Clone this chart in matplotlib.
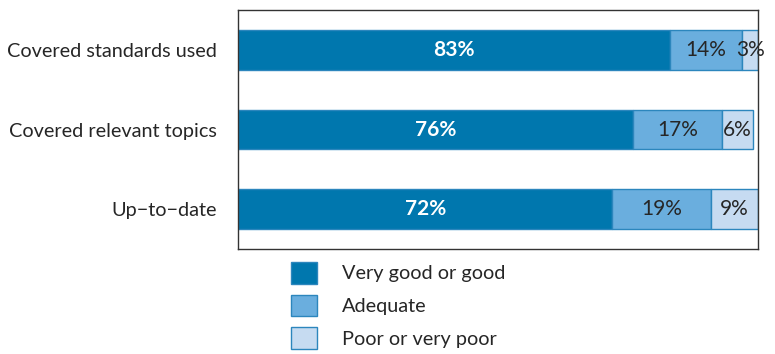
import matplotlib.pyplot as plt
from matplotlib.patches import Patch

categories = ["Covered standards used", "Covered relevant topics", "Up\u2212to\u2212date"]
very_good = [83, 76, 72]
adequate = [14, 17, 19]
poor = [3, 6, 9]
series_names = ["Very good or good", "Adequate", "Poor or very poor"]

colors = ["#0077ae", "#6aaede", "#c6dbf1"]
edge = "#2c86bd"
text_color = "#262626"

plt.rcParams["font.family"] = ["Lato", "DejaVu Sans"]

fig = plt.figure(figsize=(7.75, 3.54), dpi=100)
ax = fig.add_axes([238 / 775, 1 - 249 / 354, 520 / 775, 239 / 354])

y = list(range(len(categories)))
left = [0] * len(categories)
for vals, c, name in zip([very_good, adequate, poor], colors, series_names):
    bars = ax.barh(y, vals, left=left, height=0.5, color=c, edgecolor=edge,
                   linewidth=1.0, label=name)
    for b, v in zip(bars, vals):
        cx = b.get_x() + b.get_width() / 2
        if c == colors[0]:
            ax.text(cx, b.get_y() + b.get_height() / 2, f"{v}%", ha="center",
                    va="center", color="white", fontweight="bold", fontsize=15)
        else:
            ax.text(cx, b.get_y() + b.get_height() / 2, f"{v}%", ha="center",
                    va="center", color=text_color, fontsize=15, clip_on=False)
    left = [l + v for l, v in zip(left, vals)]

ax.set_xlim(0, 100)
ax.set_ylim(2.5, -0.5)
ax.set_yticks(y)
ax.set_yticklabels(categories, fontsize=14.3, color=text_color)
ax.tick_params(axis="y", length=0, pad=15)
ax.set_xticks([])
for s in ax.spines.values():
    s.set_color("#333333")
    s.set_linewidth(1.0)

handles = [Patch(facecolor=c, edgecolor=edge, label=n) for c, n in zip(colors, series_names)]
fig.legend(handles=handles, loc="upper left", bbox_to_anchor=(291 / 775, 1 - 262 / 354),
           frameon=False, fontsize=14.3, handlelength=1.3, handleheight=1.3,
           labelspacing=0.55, handletextpad=1.25, borderpad=0, borderaxespad=0,
           labelcolor=text_color)

fig.savefig("out.png", dpi=100)
